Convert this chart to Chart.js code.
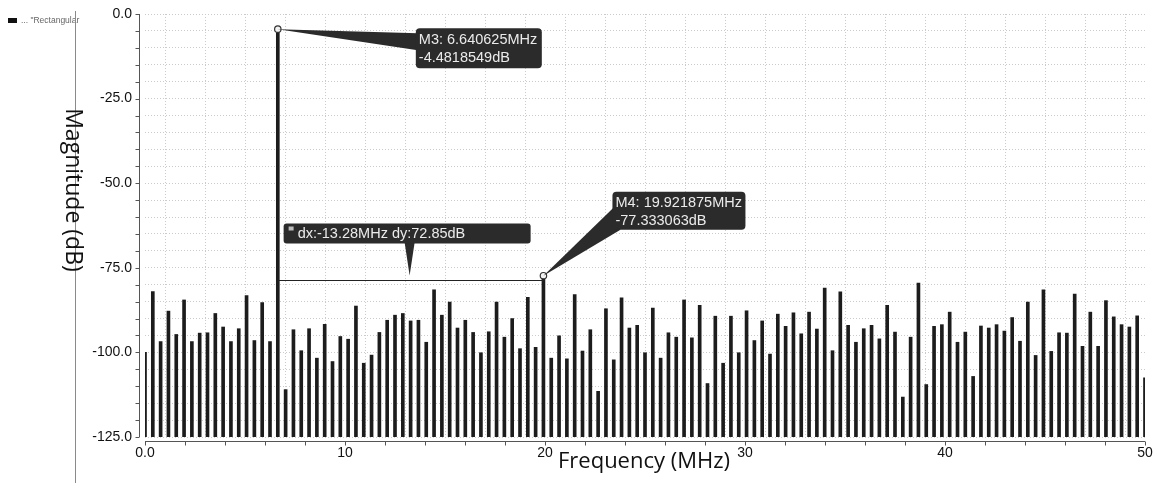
<!DOCTYPE html>
<html>
<head>
<meta charset="utf-8">
<title>Spectrum</title>
<script src="https://cdn.jsdelivr.net/npm/chart.js"></script>
<style>
  html, body { margin: 0; padding: 0; background: #fff; }
  #wrap { width: 1159px; height: 483px; position: relative; }
</style>
</head>
<body>
<div id="wrap"><canvas id="spectrum"></canvas></div>
<script>
  'use strict';

  // FFT bin spacing (50 MHz / 128 bins)
  var binStep = 0.390625;

  // magnitude of each bin in dB, bin 0 .. 128
  var magnitudes = [
    -100.0, -82.0, -96.8, -87.8, -94.7, -84.5, -96.8, -94.3, -94.2, -88.5,
    -92.5, -96.8, -93.0, -83.2, -96.5, -85.3, -96.8, -4.4818549, -111.0, -93.3,
    -99.5, -93.0, -101.7, -91.7, -102.7, -95.3, -96.1, -86.3, -103.2, -100.8,
    -94.1, -90.5, -89.0, -88.5, -90.7, -90.5, -97.0, -81.5, -89.0, -85.1,
    -92.8, -90.5, -94.1, -100.1, -93.9, -85.1, -95.5, -90.0, -98.9, -83.7,
    -98.5, -77.333063, -101.7, -95.1, -101.9, -82.9, -99.6, -93.3, -111.5, -87.1,
    -102.2, -83.9, -92.8, -92.0, -100.1, -86.9, -101.7, -94.2, -95.5, -84.5,
    -95.7, -86.1, -109.2, -89.3, -103.2, -89.3, -100.1, -87.7, -96.5, -90.7,
    -100.5, -88.7, -92.3, -88.3, -94.5, -88.1, -93.1, -81.0, -99.5, -82.1,
    -92.0, -97.0, -93.0, -92.0, -96.0, -86.1, -94.0, -113.2, -95.5, -79.5,
    -109.5, -92.3, -91.8, -88.1, -97.0, -94.0, -107.1, -92.2, -92.8, -91.8,
    -93.7, -89.7, -96.7, -85.1, -100.9, -81.5, -99.7, -94.2, -94.3, -82.8,
    -98.2, -88.1, -98.2, -84.7, -89.5, -91.8, -92.5, -89.2, -107.5
  ];
  var freqs = magnitudes.map(function(_, k) { return k * binStep; });

  // markers
  var markerNames = ['M3', 'M4'];
  var markerFreqs = [6.640625, 19.921875];
  var markerMags = [-4.4818549, -77.333063];
  var markerFreqText = ['6.640625MHz', '19.921875MHz'];
  var markerMagText = ['-4.4818549dB', '-77.333063dB'];
  var deltaText = 'dx:-13.28MHz dy:72.85dB';
  var deltaLevel = -78.6;

  var yMin = -125, yMax = 0, yStep = 5;
  var xMin = 0, xMax = 50, xStep = 2;

  var barData = freqs.map(function(f, i) { return { x: f, y: [yMin, magnitudes[i]] }; });
  var markerData = markerFreqs.map(function(f, i) { return { x: f, y: markerMags[i] }; });

  var tickFont = { family: 'Liberation Sans', size: 14 };
  var boxFont = '14.5px "Liberation Sans"';

  function roundBox(ctx, x, y, w, h, r) {
    ctx.beginPath();
    ctx.moveTo(x + r, y);
    ctx.lineTo(x + w - r, y);
    ctx.quadraticCurveTo(x + w, y, x + w, y + r);
    ctx.lineTo(x + w, y + h - r);
    ctx.quadraticCurveTo(x + w, y + h, x + w - r, y + h);
    ctx.lineTo(x + r, y + h);
    ctx.quadraticCurveTo(x, y + h, x, y + h - r);
    ctx.lineTo(x, y + r);
    ctx.quadraticCurveTo(x, y, x + r, y);
    ctx.closePath();
  }

  function wedge(ctx, pts) {
    ctx.beginPath();
    ctx.moveTo(pts[0][0], pts[0][1]);
    for (var i = 1; i < pts.length; i++) ctx.lineTo(pts[i][0], pts[i][1]);
    ctx.closePath();
    ctx.fill();
  }

  // axis lines, titles, legend, callouts
  var decorations = {
    id: 'decorations',
    beforeDraw: function(chart) {
      var ctx = chart.ctx;
      ctx.save();
      // legend and separator
      ctx.fillStyle = '#111';
      ctx.fillRect(8, 18, 9, 5);
      ctx.fillStyle = '#666';
      ctx.font = '8.5px "Liberation Sans"';
      ctx.textBaseline = 'middle';
      ctx.fillText('... "Rectangular', 21, 20.5);
      ctx.strokeStyle = '#8a8a8a';
      ctx.lineWidth = 1;
      ctx.beginPath();
      ctx.moveTo(75.5, 11);
      ctx.lineTo(75.5, 483);
      ctx.stroke();
      ctx.restore();
    },
    afterDraw: function(chart) {
      var ctx = chart.ctx;
      var area = chart.chartArea;
      var xs = chart.scales.x, ys = chart.scales.y;
      ctx.save();

      // axis lines with outside ticks
      ctx.strokeStyle = '#555';
      ctx.lineWidth = 1;
      var axX = area.left - 5.5;
      var axY = area.bottom + 4.5;
      ctx.beginPath();
      ctx.moveTo(axX, area.top);
      ctx.lineTo(axX, area.bottom);
      for (var v = yMin; v <= yMax; v += yStep) {
        var py = Math.round(ys.getPixelForValue(v)) + 0.5;
        ctx.moveTo(axX - 4, py);
        ctx.lineTo(axX, py);
      }
      ctx.moveTo(area.left, axY);
      ctx.lineTo(area.right, axY);
      for (var f = xMin; f <= xMax; f += xStep) {
        var px = Math.round(xs.getPixelForValue(f)) + 0.5;
        ctx.moveTo(px, axY);
        ctx.lineTo(px, axY + 4);
      }
      ctx.stroke();

      // axis titles
      ctx.fillStyle = '#111';
      ctx.font = '22px "Open Sans"';
      ctx.textAlign = 'center';
      ctx.textBaseline = 'middle';
      ctx.fillText('Frequency (MHz)', 644, 462);
      ctx.save();
      ctx.translate(73, 190);
      ctx.rotate(Math.PI / 2);
      ctx.font = '23px "Open Sans"';
      ctx.fillText('Magnitude (dB)', 0, 0);
      ctx.restore();

      var m3x = xs.getPixelForValue(markerFreqs[0]), m3y = ys.getPixelForValue(markerMags[0]);
      var m4x = xs.getPixelForValue(markerFreqs[1]), m4y = ys.getPixelForValue(markerMags[1]);
      var dLy = Math.round(ys.getPixelForValue(deltaLevel)) + 0.5;

      // delta ruler
      ctx.strokeStyle = '#222';
      ctx.lineWidth = 1;
      ctx.beginPath();
      ctx.moveTo(m3x, dLy);
      ctx.lineTo(m4x, dLy);
      ctx.moveTo(m3x + 0.5, dLy - 2);
      ctx.lineTo(m3x + 0.5, dLy + 2);
      ctx.moveTo(m4x - 0.5, dLy - 2);
      ctx.lineTo(m4x - 0.5, dLy + 2);
      ctx.stroke();

      ctx.fillStyle = '#2b2b2b';

      // M3 callout
      var b3x = m3x + 138, b3y = m3y - 1;
      wedge(ctx, [[m3x, m3y], [b3x + 2, m3y + 4], [b3x + 2, m3y + 21]]);
      roundBox(ctx, b3x, b3y, 126, 40, 4);
      ctx.fill();

      // M4 callout
      var b4x = m4x + 69, b4y = m4y - 84;
      wedge(ctx, [[m4x, m4y], [b4x + 1, b4y + 16], [b4x + 8, b4y + 38]]);
      roundBox(ctx, b4x, b4y, 133, 38, 4);
      ctx.fill();

      // delta callout, pointing at the middle of the ruler
      var midX = (m3x + m4x) / 2;
      var bdx = midX - 127, bdy = dLy - 57;
      wedge(ctx, [[midX - 6, bdy + 19], [midX + 4, bdy + 19], [midX - 1, dLy - 5]]);
      roundBox(ctx, bdx, bdy, 247, 20, 3);
      ctx.fill();

      ctx.fillStyle = '#ebebeb';
      ctx.font = boxFont;
      ctx.textAlign = 'left';
      ctx.textBaseline = 'middle';
      ctx.fillText(markerNames[0] + ': ' + markerFreqText[0], b3x + 3, b3y + 12);
      ctx.fillText(markerMagText[0], b3x + 3, b3y + 30);
      ctx.fillText(markerNames[1] + ': ' + markerFreqText[1], b4x + 3, b4y + 11);
      ctx.fillText(markerMagText[1], b4x + 3, b4y + 29);
      ctx.fillText(deltaText, bdx + 14, bdy + 10.5);
      ctx.fillStyle = '#bdbdbd';
      ctx.fillRect(bdx + 5, bdy + 3, 5, 4);

      ctx.restore();
    }
  };

  var ctx = document.getElementById('spectrum');
  var chart = new Chart(ctx, {
    type: 'bar',
    data: {
      datasets: [
        {
          type: 'scatter',
          label: 'markers',
          data: markerData,
          pointRadius: 3.2,
          pointBackgroundColor: '#f4f4f4',
          pointBorderColor: '#333',
          pointBorderWidth: 1.2,
          order: 1
        },
        {
          label: 'Rectangular',
          data: barData,
          backgroundColor: '#1c1c1c',
          barThickness: 3,
          order: 2
        }
      ]
    },
    options: {
      responsive: true,
      maintainAspectRatio: false,
      devicePixelRatio: 1,
      animation: false,
      layout: { padding: { top: 14, right: 14, left: 0, bottom: 0 } },
      plugins: {
        legend: { display: false },
        tooltip: { enabled: false }
      },
      scales: {
        x: {
          type: 'linear',
          min: xMin,
          max: xMax,
          offset: false,
          afterFit: function(scale) {
            scale.height = 46;
            scale.paddingLeft = 0;
            scale.paddingRight = 0;
          },
          grid: { color: '#cbcbcb', drawTicks: false },
          border: { display: false, dash: [1, 2] },
          ticks: {
            stepSize: xStep,
            autoSkip: false,
            maxRotation: 0,
            padding: 8,
            color: '#111',
            font: tickFont,
            callback: function(v) {
              if (v === 0) return '0.0';
              return v % 10 === 0 ? String(v) : '';
            }
          }
        },
        y: {
          min: yMin,
          max: yMax,
          afterFit: function(scale) {
            scale.width = 145;
            scale.paddingTop = 0;
            scale.paddingBottom = 0;
          },
          grid: { color: '#cbcbcb', drawTicks: false },
          border: { display: false, dash: [1, 2] },
          ticks: {
            stepSize: yStep,
            autoSkip: false,
            padding: 13,
            color: '#111',
            font: tickFont,
            callback: function(v) {
              return v % 25 === 0 ? v.toFixed(1) : '';
            }
          }
        }
      }
    },
    plugins: [decorations]
  });
</script>
</body>
</html>
